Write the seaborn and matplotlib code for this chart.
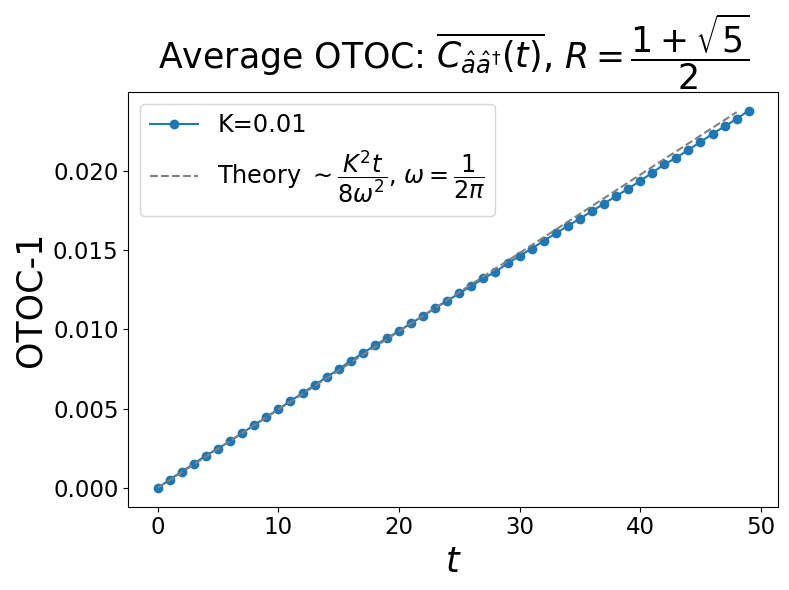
import numpy as np
import matplotlib
matplotlib.use('Agg')
import matplotlib.pyplot as plt
import seaborn as sns

# Dados (OTOC-1 médio para K=0.01)
t = np.arange(0, 50)
otoc = [0.00000, 0.00052, 0.00103, 0.00153, 0.00204, 0.00248, 0.00296, 0.00346,
        0.00397, 0.00447, 0.00497, 0.00548, 0.00598, 0.00649, 0.00699, 0.00749,
        0.00802, 0.00850, 0.00900, 0.00945, 0.00991, 0.01039, 0.01085, 0.01134,
        0.01181, 0.01228, 0.01274, 0.01322, 0.01364, 0.01417, 0.01463, 0.01511,
        0.01559, 0.01606, 0.01654, 0.01700, 0.01746, 0.01795, 0.01841, 0.01889,
        0.01937, 0.01990, 0.02042, 0.02084, 0.02135, 0.02183, 0.02235, 0.02282,
        0.02330, 0.02382]

# reta teórica (extremos)
t_teoria = [0, 48]
otoc_teoria = [0.0, 0.02372]

serie_label = 'K=0.01'
teoria_label = r'Theory $\sim\dfrac{K^2t}{8\omega^2}$, $\omega=\dfrac{1}{2\pi}$'
titulo = r'Average OTOC: $\overline{C_{\hat{a}\hat{a}^{\dagger}}(t)}$, $R=\dfrac{1+\sqrt{5}}{2}$'

fig = plt.figure(figsize=(7.89, 5.9), dpi=100)
ax = fig.add_axes([0.1626, 0.1412, 0.8238, 0.7034])

sns.lineplot(x=t, y=otoc, ax=ax, marker='o', markersize=6, color='#1f77b4',
             markeredgecolor='#1f77b4', markeredgewidth=1, linewidth=1.5,
             label=serie_label)
sns.lineplot(x=t_teoria, y=otoc_teoria, ax=ax, color='gray', linestyle='--',
             linewidth=1.5, label=teoria_label)

ax.set_title(titulo, fontsize=25)
ax.set_xlabel(r'$t$', fontsize=25)
ax.set_ylabel('OTOC-1', fontsize=25)
ax.set_xticks([0, 10, 20, 30, 40, 50])
ax.set_yticks([0.0, 0.005, 0.010, 0.015, 0.020])
ax.set_yticklabels(['0.000', '0.005', '0.010', '0.015', '0.020'])
ax.tick_params(labelsize=16.5)
ax.legend(loc='upper left', fontsize=17.3)

fig.savefig('out.png', dpi=100)
